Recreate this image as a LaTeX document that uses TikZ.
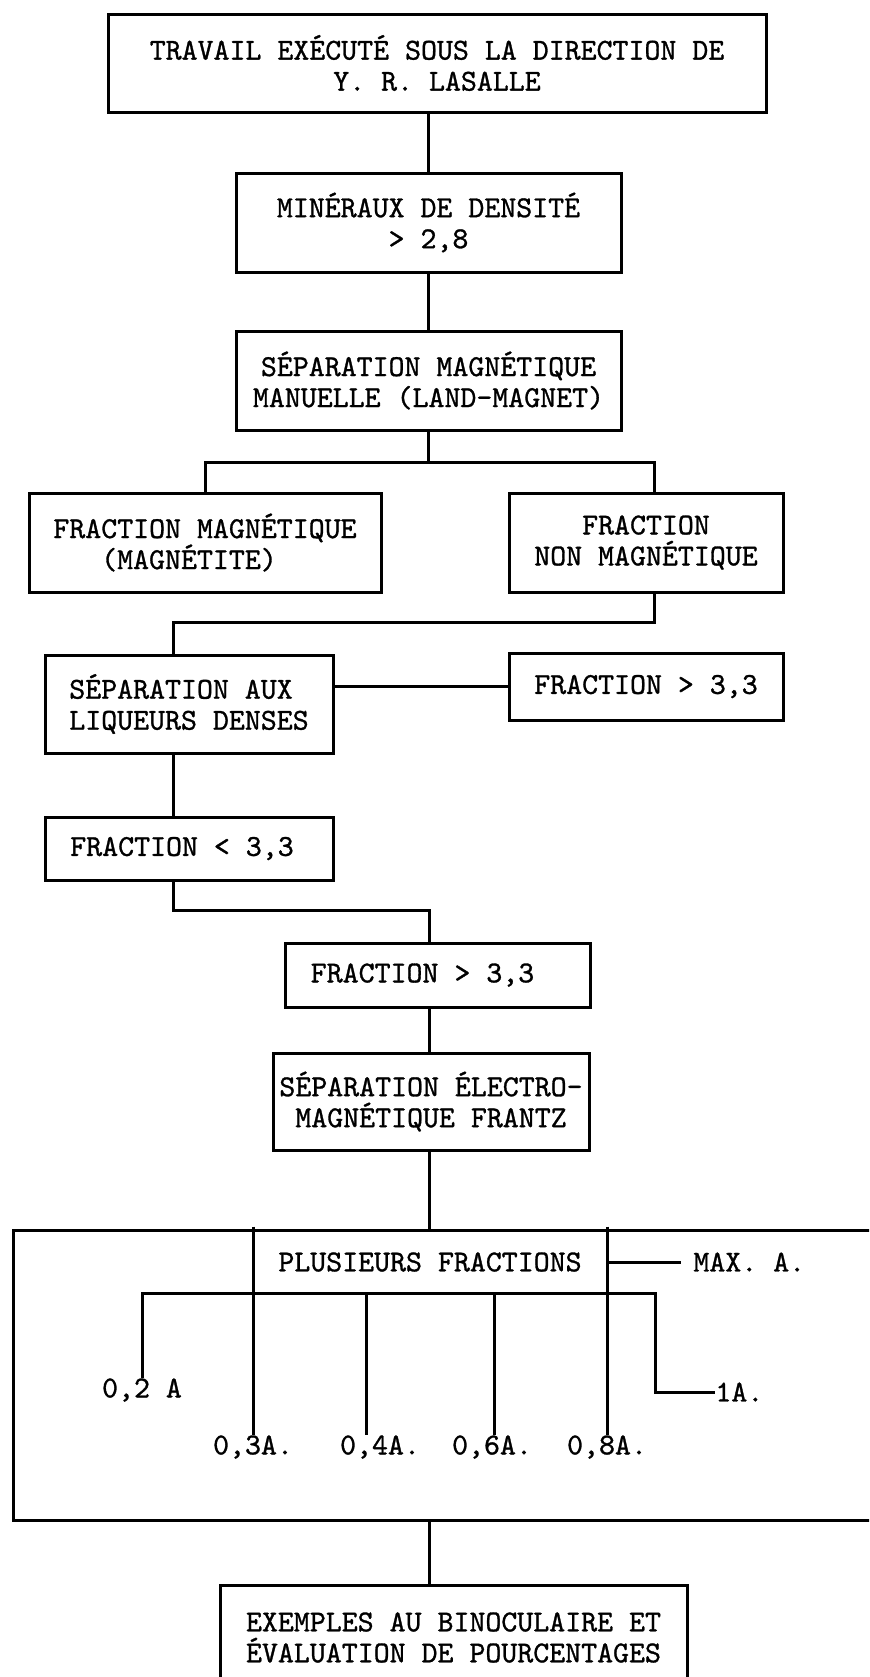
\documentclass[tikz,border=0pt]{standalone}
\usepackage{fontspec}
\newfontfamily\twfam{lmmono10-regular.otf}[FakeBold=1]
\newcommand{\twfont}{\fontsize{15.2}{15.5}\selectfont\twfam}
\tikzset{
  ln/.style={line width=1.5pt},
  box/.style={draw, line width=1.5pt, inner sep=0pt, align=center, font=\twfont},
  lbl/.style={inner sep=0pt, font=\twfont},
}
\begin{document}
\begin{tikzpicture}[x=0.5pt,y=-0.5pt]
\useasboundingbox (0,0) rectangle (869,1677);
\clip (0,0) rectangle (869,1677);
\fill[white] (0,0) rectangle (869,1677);

% boxes
\node[box, minimum width=329pt, minimum height=49pt] (b1) at (437,63)
  {TRAVAIL EXÉCUTÉ SOUS LA DIRECTION DE\\Y. R. LASALLE};
\node[box, minimum width=192.5pt, minimum height=49.5pt] (b2) at (428.5,222.5)
  {MINÉRAUX DE DENSITÉ\\> 2,8};
\node[box, minimum width=192.5pt, minimum height=49.5pt] (b3) at (428.5,380.5)
  {SÉPARATION MAGNÉTIQUE\\MANUELLE (LAND-MAGNET)};
\node[box, minimum width=176pt, minimum height=49.5pt] (b4) at (205,542.5)
  {FRACTION MAGNÉTIQUE\\(MAGNÉTITE)\hspace*{16pt}};
\node[box, minimum width=137pt, minimum height=49.5pt] (b5) at (646,542.5)
  {FRACTION\\NON MAGNÉTIQUE};
\node[box, align=left, minimum width=144pt, minimum height=49pt] (b6) at (189,704)
  {SÉPARATION AUX\\LIQUEURS DENSES};
\node[box, minimum width=137pt, minimum height=33.5pt] (b7) at (646,686.5)
  {FRACTION > 3,3};
\node[box, minimum width=144pt, minimum height=31.5pt] (b8) at (189,848.5)
  {FRACTION < 3,3\hspace*{7pt}};
\node[box, minimum width=152.5pt, minimum height=32pt] (b9) at (437.5,975)
  {FRACTION > 3,3\hspace*{15pt}};
\node[box, minimum width=158pt, minimum height=48.5pt] (b10) at (431,1101.5)
  {SÉPARATION ÉLECTRO-\\MAGNÉTIQUE FRANTZ};
\node[draw, line width=1.5pt, inner sep=0pt, minimum width=438.5pt, minimum height=145pt] (frame) at (451.5,1375) {};
\node[box, minimum width=233.5pt, minimum height=52.5pt] (b11) at (453.5,1637.5)
  {EXEMPLES AU BINOCULAIRE ET\\ÉVALUATION DE POURCENTAGES};

% labels inside the frame
\node[lbl] (pf) at (430,1262) {PLUSIEURS FRACTIONS};
\node[lbl, anchor=west] (mx) at (693,1262) {MAX. A.};
\node[lbl] (l2) at (142,1390) {0,2 A};
\node[lbl] (l3) at (253,1447) {0,3A.};
\node[lbl] (l4) at (380,1447) {0,4A.};
\node[lbl] (l6) at (492,1447) {0,6A.};
\node[lbl] (l8) at (607,1447) {0,8A.};
\node[lbl, anchor=west] (l1) at (715,1392) {1A.};

% junction coordinates
\coordinate (j1r) at (654,462);
\coordinate (j2) at (654,622);
\coordinate (j3) at (173,622);
\coordinate (j4) at (173,910);
\coordinate (j5) at (429,910);
\coordinate (bl) at (142,1293);
\coordinate (br) at (655,1293);
\coordinate (d4) at (366,1293);
\coordinate (d6) at (494,1293);

% connectors
\draw[ln] (b1.south -| b2.north) -- (b2.north);
\draw[ln] (b2.south) -- (b3.north);
\draw[ln] (b3.south) -- (b3.south |- j1r);
\draw[ln] (b4.north) |- (j1r) -- (j1r |- b5.north);
\draw[ln] (j2 |- b5.south) -- (j2) -- (j3) -- (j3 |- b6.north);
\draw[ln] (b6.east |- b7.west) -- (b7.west);
\draw[ln] (j4 |- b6.south) -- (j4 |- b8.north);
\draw[ln] (j4 |- b8.south) -- (j4) -- (j5) -- (j5 |- b9.north);
\draw[ln] (j5 |- b9.south) -- (j5 |- b10.north);
\draw[ln] (j5 |- b10.south) -- (j5 |- frame.north);
\draw[ln] (j5 |- frame.south) -- (j5 |- b11.north);

% inside the frame
\draw[ln] ([yshift=1pt]l3.north |- frame.north) -- (l3.north);
\draw[ln] ([yshift=1pt]l8.north |- frame.north) -- (l8.north);
\draw[ln] (l8.north |- mx.west) -- ([xshift=-6pt]mx.west);
\draw[ln] (l2.north) -- (l2.north |- bl) -- (br) -- (br |- l1.west) -- (l1.west);
\draw[ln] (d4) -- (d4 |- l4.north);
\draw[ln] (d6) -- (d6 |- l6.north);
\end{tikzpicture}
\end{document}
